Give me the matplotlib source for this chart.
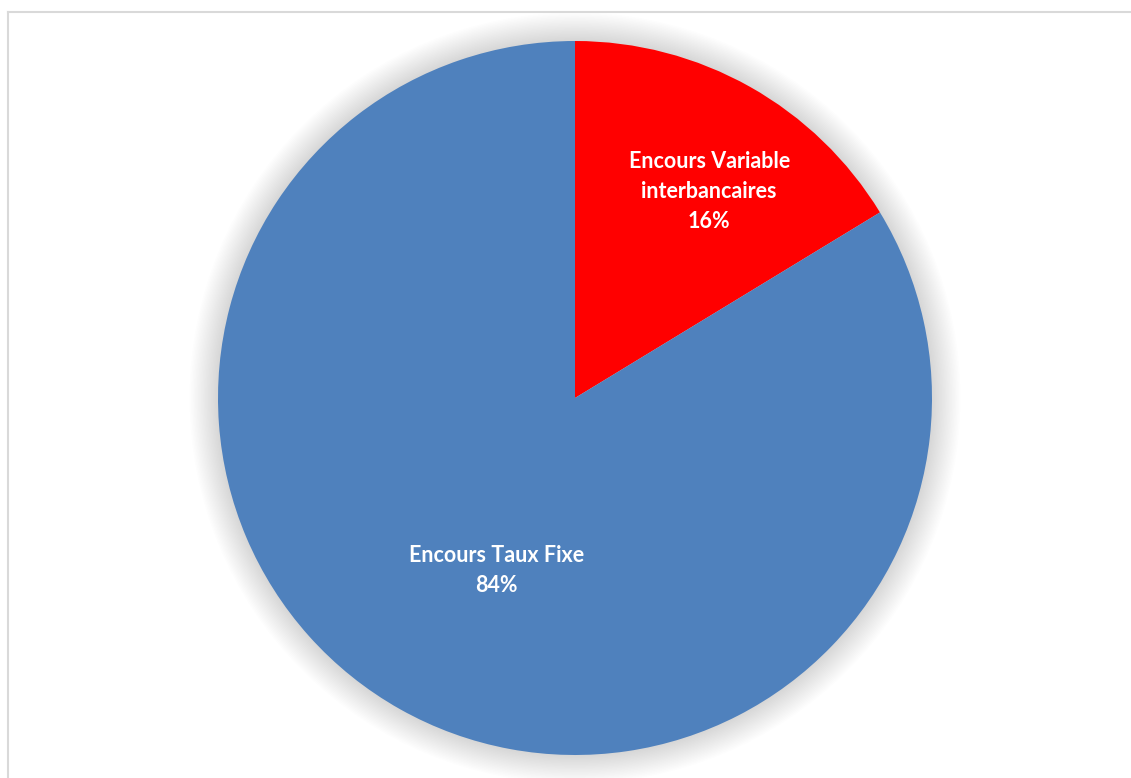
import numpy as np
import matplotlib
matplotlib.use("Agg")
import matplotlib.pyplot as plt
from matplotlib.patches import Circle
from matplotlib.lines import Line2D

# Données
categories = ["Encours Variable\ninterbancaires", "Encours Taux Fixe"]
valeurs = [16.3, 83.7]
couleurs = ["#FF0000", "#4F81BD"]
# position des étiquettes (angle en degrés, distance relative au rayon)
angles_labels = [57.0, -114.4]
dist_labels = [0.69, 0.53]

W, H = 1131, 778
fig = plt.figure(figsize=(W / 100, H / 100), dpi=100)

# cadre gris (haut et gauche)
fig.add_artist(Line2D([8 / W, 8 / W], [0, 1 - 12 / H], color="#d9d9d9", lw=1.5))
fig.add_artist(Line2D([8 / W, 1], [1 - 12 / H, 1 - 12 / H], color="#d9d9d9", lw=1.5))

cx, cy, r = 575, 398, 357
ax = fig.add_axes([(cx - r) / W, (H - cy - r) / H, 2 * r / W, 2 * r / H])

# ombre douce autour du camembert
for k in range(20):
    rr = 1.0 + 0.004 * (k + 1)
    ax.add_patch(Circle((0, 0), rr, color="black", alpha=0.007, lw=0, clip_on=False, zorder=0))

wedges, _ = ax.pie(valeurs, colors=couleurs, startangle=90, counterclock=False,
                   radius=1.0, wedgeprops=dict(linewidth=0))
for w in wedges:
    w.set_zorder(2)

ax.set_xlim(-1, 1)
ax.set_ylim(-1, 1)
ax.set_aspect("equal")
ax.axis("off")

total = sum(valeurs)
for cat, val, a, d in zip(categories, valeurs, angles_labels, dist_labels):
    ang = np.deg2rad(a)
    x, y = d * np.cos(ang), d * np.sin(ang)
    ax.text(x, y, f"{cat}\n{val / total * 100:.0f}%", ha="center", va="center",
            color="white", fontsize=15.5, fontweight="bold", family="Lato",
            linespacing=1.55, zorder=3)

plt.savefig("out.png", dpi=100)
